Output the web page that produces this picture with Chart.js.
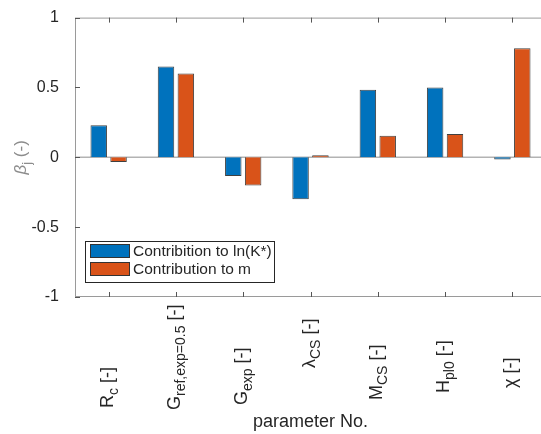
<!DOCTYPE html>
<html>
<head>
<meta charset="utf-8">
<script src="https://cdn.jsdelivr.net/npm/chart.js@4/dist/chart.umd.min.js"></script>
<style>
body { margin: 0; background: #fff; }
#wrap { width: 541px; height: 434px; overflow: hidden; }
</style>
</head>
<body>
<div id="wrap"><canvas id="betaChart" width="548" height="434"></canvas></div>
<script>
const categories = ["R_{c} [-]", "G_{ref,exp=0.5} [-]", "G_{exp} [-]", "λ_{CS} [-]", "M_{CS} [-]", "H_{pl0} [-]", "χ [-]"];
const lnKValues = [0.23, 0.65, -0.133, -0.30, 0.484, 0.50, -0.016];
const mValues = [-0.033, 0.60, -0.202, 0.014, 0.154, 0.167, 0.78];
const seriesNames = ["Contribition to ln(K*)", "Contribution to m"];
const yTicks = [-1, -0.5, 0, 0.5, 1];

const FONT = '"Liberation Sans", Arial, sans-serif';
const TEXT = "#262626";
const AXIS = "#9a9a9a";
// bottom end of each rotated tick label (px)
const labelBottoms = [408, 410, 405, 368, 400, 393, 388];

// split "A_{b} c" into [{t:"A",sub:false},{t:"b",sub:true},{t:" c",sub:false}]
function parseTex(s) {
  const parts = [];
  const re = /_\{([^}]*)\}/g;
  let last = 0, m;
  while ((m = re.exec(s)) !== null) {
    if (m.index > last) parts.push({t: s.slice(last, m.index), sub: false});
    parts.push({t: m[1], sub: true});
    last = re.lastIndex;
  }
  if (last < s.length) parts.push({t: s.slice(last), sub: false});
  return parts;
}

function drawTex(ctx, parts, mainSize, subSize, subShift, italicFirst) {
  let x = 0;
  parts.forEach((p, i) => {
    const style = (italicFirst && i === 0) ? "italic " : "";
    ctx.font = style + (p.sub ? subSize : mainSize) + "px " + FONT;
    ctx.fillText(p.t, x, p.sub ? subShift : 0);
    x += ctx.measureText(p.t).width;
  });
  return x;
}

const matlabAxes = {
  id: "matlabAxes",
  beforeDatasetsDraw(chart) {
    const {ctx, chartArea: a, scales: {y}} = chart;
    const y0 = y.getPixelForValue(0);
    ctx.save();
    ctx.strokeStyle = "#b3b3b3";
    ctx.lineWidth = 1.5;
    ctx.beginPath();
    ctx.moveTo(a.left, y0);
    ctx.lineTo(a.right, y0);
    ctx.stroke();
    ctx.restore();
  },
  afterDatasetsDraw(chart) {
    const {ctx, chartArea: a, scales: {x, y}} = chart;
    ctx.save();
    // box
    ctx.strokeStyle = AXIS;
    ctx.lineWidth = 1;
    ctx.strokeRect(a.left + 0.5, a.top + 0.5, a.right - a.left - 1, a.bottom - a.top - 1);
    // inward ticks
    ctx.strokeStyle = "#555";
    ctx.beginPath();
    yTicks.forEach(v => {
      const py = Math.round(y.getPixelForValue(v)) + 0.5;
      ctx.moveTo(a.left, py); ctx.lineTo(a.left + 5, py);
      ctx.moveTo(a.right, py); ctx.lineTo(a.right - 5, py);
    });
    categories.forEach((c, i) => {
      const px = Math.round(x.getPixelForValue(i)) + 0.5;
      ctx.moveTo(px, a.top); ctx.lineTo(px, a.top + 5);
      ctx.moveTo(px, a.bottom); ctx.lineTo(px, a.bottom - 5);
    });
    ctx.stroke();

    // rotated category labels with subscripts
    ctx.fillStyle = TEXT;
    ctx.textBaseline = "alphabetic";
    ctx.textAlign = "left";
    categories.forEach((c, i) => {
      const px = x.getPixelForValue(i);
      ctx.save();
      ctx.translate(px + 4, labelBottoms[i]);
      ctx.rotate(-Math.PI / 2);
      drawTex(ctx, parseTex(c), 18, 14, 5, false);
      ctx.restore();
    });

    // x title
    ctx.font = "18px " + FONT;
    ctx.textAlign = "center";
    ctx.textBaseline = "middle";
    ctx.fillText("parameter No.", (a.left + a.right) / 2, 422);

    // y title
    ctx.fillStyle = "#8c8c8c";
    ctx.textAlign = "left";
    ctx.textBaseline = "alphabetic";
    const yParts = [{t: "β", sub: false}, {t: "j", sub: true}, {t: " (-)", sub: false}];
    ctx.save();
    let w = 0;
    yParts.forEach((p, i) => {
      ctx.font = (i === 0 ? "italic " : "") + (p.sub ? 13 : 17) + "px " + FONT;
      w += ctx.measureText(p.t).width;
    });
    ctx.translate(26, (a.top + a.bottom) / 2 + w / 2);
    ctx.rotate(-Math.PI / 2);
    drawTex(ctx, yParts, 17, 13, 5, true);
    ctx.restore();

    // legend inside the axes
    const lx = 85.5, ly = 241.5, lw = 189, lh = 41;
    ctx.fillStyle = "#fff";
    ctx.fillRect(lx, ly, lw, lh);
    ctx.strokeStyle = TEXT;
    ctx.lineWidth = 1;
    ctx.strokeRect(lx, ly, lw, lh);
    chart.data.datasets.forEach((ds, i) => {
      const sy = 244 + i * 18;
      ctx.fillStyle = ds.backgroundColor;
      ctx.fillRect(90, sy, 40, 14);
      ctx.strokeStyle = "#333";
      ctx.strokeRect(90.5, sy + 0.5, 39, 13);
      ctx.fillStyle = TEXT;
      ctx.font = "15.5px " + FONT;
      ctx.textBaseline = "middle";
      ctx.fillText(ds.label, 133, sy + 7.5);
    });
    ctx.restore();
  }
};

new Chart(document.getElementById("betaChart"), {
  type: "bar",
  data: {
    labels: categories,
    datasets: [{
      label: seriesNames[0],
      data: lnKValues,
      backgroundColor: "#0072BD",
      borderColor: "rgba(0,0,0,0.75)",
      borderWidth: 1,
      categoryPercentage: 0.59,
      barPercentage: 0.83
    }, {
      label: seriesNames[1],
      data: mValues,
      backgroundColor: "#D95319",
      borderColor: "rgba(0,0,0,0.75)",
      borderWidth: 1,
      categoryPercentage: 0.59,
      barPercentage: 0.83
    }]
  },
  options: {
    responsive: false,
    animation: false,
    layout: {padding: {top: 10, right: 2, left: 0, bottom: 0}},
    plugins: {legend: {display: false}, tooltip: {enabled: false}},
    scales: {
      x: {
        grid: {display: false},
        border: {display: false},
        ticks: {display: false},
        afterFit(scale) { scale.height = 137; }
      },
      y: {
        min: -1,
        max: 1,
        grid: {display: false},
        border: {display: false},
        afterBuildTicks(scale) { scale.ticks = yTicks.map(v => ({value: v})); },
        ticks: {
          color: TEXT,
          padding: 8,
          font: {family: FONT, size: 16},
          callback: v => String(v)
        },
        afterFit(scale) { scale.width = 75; }
      }
    }
  },
  plugins: [matlabAxes]
});
</script>
</body>
</html>
